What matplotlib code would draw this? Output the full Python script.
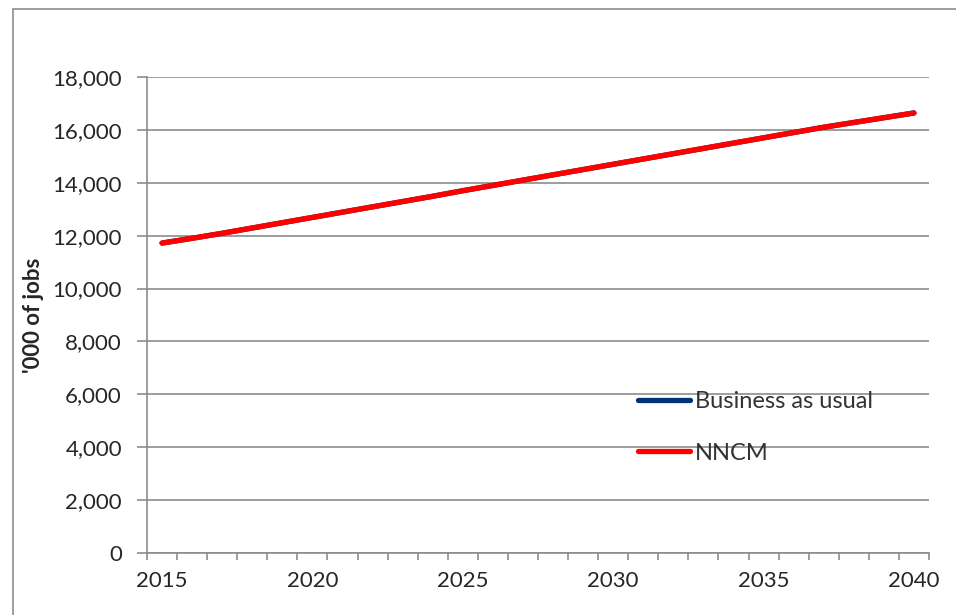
import matplotlib.pyplot as plt
from matplotlib.patches import Rectangle
from matplotlib.ticker import FuncFormatter, FixedLocator
import numpy as np

# --- data ---
YEARS = list(range(2015, 2041))
BAU = [11720, 11900, 12090, 12290, 12490, 12690, 12890, 13090, 13290, 13490,
       13700, 13900, 14100, 14300, 14500, 14700, 14900, 15100, 15300, 15500,
       15700, 15900, 16100, 16280, 16460, 16640]
NNCM = [11720, 11900, 12090, 12290, 12490, 12690, 12890, 13090, 13290, 13490,
        13700, 13900, 14100, 14300, 14500, 14700, 14900, 15100, 15300, 15500,
        15700, 15900, 16100, 16280, 16460, 16640]
SERIES_NAMES = ['Business as usual', 'NNCM']
SERIES_COLORS = ['#003478', '#ff0000']
Y_TICKS = list(range(0, 18001, 2000))
X_LABEL_YEARS = [2015, 2020, 2025, 2030, 2035, 2040]

plt.rcParams['font.family'] = ['Lato', 'DejaVu Sans']
TEXT_COLOR = '#262626'
GRID_COLOR = '#8c8c8c'

fig = plt.figure(figsize=(9.56, 6.15), dpi=100)
# outer chart border
fig.patches.append(Rectangle((13 / 956, -0.1), 1.2, (615 - 9) / 615 + 0.1,
                             transform=fig.transFigure, fill=False,
                             edgecolor=GRID_COLOR, linewidth=1.2))

ax = fig.add_axes([147 / 956, 62 / 615, 782 / 956, 476 / 615])

x = np.arange(len(YEARS)) + 0.5
for vals, name, col in zip([BAU, NNCM], SERIES_NAMES, SERIES_COLORS):
    ax.plot(x, vals, color=col, linewidth=3.8, solid_capstyle='round', label=name)

ax.set_xlim(0, len(YEARS))
ax.set_ylim(0, 18000)
ax.set_yticks(Y_TICKS)
ax.yaxis.set_major_formatter(FuncFormatter(lambda v, p: f'{int(v):,}'))
ax.grid(axis='y', color=GRID_COLOR, linewidth=1.2)
ax.set_axisbelow(True)

# category axis: ticks between years, labels every 5 years
ax.xaxis.set_major_locator(FixedLocator([YEARS.index(y) + 0.5 for y in X_LABEL_YEARS]))
ax.set_xticklabels([str(y) for y in X_LABEL_YEARS])
ax.xaxis.set_minor_locator(FixedLocator(np.arange(0, len(YEARS) + 1)))
ax.tick_params(axis='x', which='major', length=0, pad=13, labelsize=16, colors=TEXT_COLOR)
ax.tick_params(axis='x', which='minor', length=5, color=GRID_COLOR, width=1.2)
ax.tick_params(axis='y', length=7, color=GRID_COLOR, width=1.2, labelsize=16,
               labelcolor=TEXT_COLOR, pad=11)

for s in ['top', 'right']:
    ax.spines[s].set_visible(False)
for s in ['left', 'bottom']:
    ax.spines[s].set_color(GRID_COLOR)
    ax.spines[s].set_linewidth(1.2)

ax.set_ylabel("'000 of jobs", fontsize=16, fontweight='bold', color=TEXT_COLOR, labelpad=6)

leg = ax.legend(loc='upper left', bbox_to_anchor=(638 / 956, (615 - 391) / 615),
                bbox_transform=fig.transFigure, frameon=False, fontsize=17,
                handlelength=2.2, handletextpad=0.2, labelspacing=1.3,
                borderpad=0, borderaxespad=0)
for t in leg.get_texts():
    t.set_color('#333333')

fig.savefig('out.png', dpi=100)
